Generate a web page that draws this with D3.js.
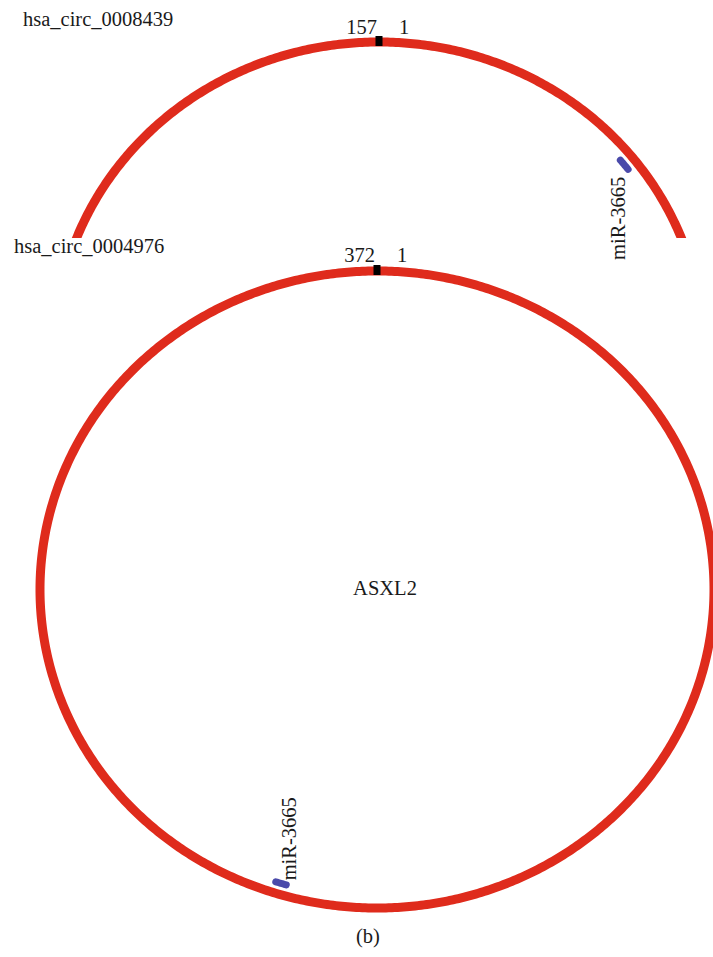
<!DOCTYPE html>
<html><head><meta charset="utf-8">
<script src="https://cdn.jsdelivr.net/npm/d3@7/dist/d3.min.js"></script>
<style>html,body{margin:0;padding:0;background:#fff;}svg{display:block;}</style>
</head><body>
<script>
// ---- data ----
const circNames = ["hsa_circ_0008439", "hsa_circ_0004976"];
const circLengths = [157, 372];
const mirNames = ["miR-3665", "miR-3665"];
const siteStart = [22.0, 202.7];
const siteEnd = [23.0, 204.7];
const hostGenes = ["", "ASXL2"];
const panelLabel = "(b)";

// ---- layout (positions / styles) ----
const W = 713, H = 957;
const layout = [
  {cx: 379, cy: 348, rx: 324, ry: 306, clipBottom: 238, nameX: 23, nameY: 26, endLabelDy: -8,
   mirDx: 1, mirDy: 12, mirAnchor: "end", geneDx: 8, geneDy: 5},
  {cx: 377, cy: 589.5, rx: 337, ry: 318.5, clipBottom: null, nameX: 14, nameY: 253, endLabelDy: -9,
   mirDx: 15, mirDy: -3, mirAnchor: "start", geneDx: 8, geneDy: 5}
];
const RED = "#df2b1c", BLUE = "#4a4aaa", TXT = "#1a1a1a";
const FONT = "Liberation Serif, DejaVu Serif, serif";
const FS = 20.5;
const inset = 11;

const svg = d3.select("body").append("svg").attr("width", W).attr("height", H)
  .attr("font-family", FONT).attr("font-size", FS);

const defs = svg.append("defs");

circNames.forEach((name, i) => {
  const L = layout[i];
  const ang = d3.scaleLinear().domain([0, circLengths[i]]).range([0, 2 * Math.PI]);
  const pt = (a, rx, ry) => [L.cx + rx * Math.sin(a), L.cy - ry * Math.cos(a)];
  const line = d3.line();

  const g = svg.append("g");
  let ringG = g;
  if (L.clipBottom != null) {
    defs.append("clipPath").attr("id", "clip" + i)
      .append("rect").attr("x", 0).attr("y", 0).attr("width", W).attr("height", L.clipBottom);
    ringG = g.append("g").attr("clip-path", `url(#clip${i})`);
  }

  // ring
  const ringPts = d3.range(0, circLengths[i] + 0.0001, circLengths[i] / 720).map(v => pt(ang(v), L.rx, L.ry));
  ringG.append("path").attr("d", line(ringPts) + "Z")
    .attr("fill", "none").attr("stroke", RED).attr("stroke-width", 9);

  // start/end tick
  const top = pt(ang(0), L.rx, L.ry);
  ringG.append("rect").attr("x", top[0] - 3.5).attr("y", top[1] - 6).attr("width", 7).attr("height", 10)
    .attr("fill", "#000");

  // start/end labels
  g.append("text").attr("x", top[0] - 2).attr("y", top[1] + L.endLabelDy)
    .attr("text-anchor", "end").attr("fill", TXT).text(circLengths[i]);
  g.append("text").attr("x", top[0] + 20).attr("y", top[1] + L.endLabelDy)
    .attr("text-anchor", "start").attr("fill", TXT).text(1);

  // miRNA site
  const sitePts = d3.range(siteStart[i], siteEnd[i] + 0.0001, (siteEnd[i] - siteStart[i]) / 10)
    .map(v => pt(ang(v), L.rx - inset, L.ry - inset));
  g.append("path").attr("d", line(sitePts))
    .attr("fill", "none").attr("stroke", BLUE).attr("stroke-width", 7).attr("stroke-linecap", "round");
  const mid = pt(ang((siteStart[i] + siteEnd[i]) / 2), L.rx - inset, L.ry - inset);
  g.append("text")
    .attr("transform", `translate(${mid[0] + L.mirDx},${mid[1] + L.mirDy}) rotate(-90)`)
    .attr("text-anchor", L.mirAnchor).attr("fill", TXT).text(mirNames[i]);

  // circ name
  g.append("text").attr("x", L.nameX).attr("y", L.nameY).attr("fill", TXT).text(name);

  // host gene
  if (hostGenes[i]) {
    g.append("text").attr("x", L.cx + L.geneDx).attr("y", L.cy + L.geneDy)
      .attr("text-anchor", "middle").attr("fill", TXT).text(hostGenes[i]);
  }
});

svg.append("text").attr("x", 368).attr("y", 943).attr("text-anchor", "middle")
  .attr("fill", TXT).text(panelLabel);
</script>
</body></html>
